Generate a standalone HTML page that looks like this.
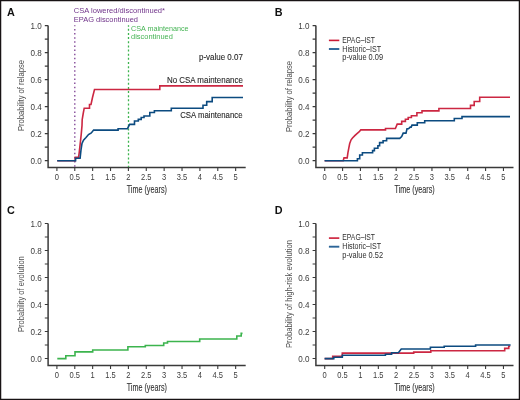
<!DOCTYPE html>
<html><head><meta charset="utf-8"><style>
html,body{margin:0;padding:0;background:#fff;width:520px;height:400px;overflow:hidden}
svg text{font-family:"Liberation Sans", sans-serif}
</style></head><body>
<svg width="520" height="400" viewBox="0 0 520 400" style="display:block;will-change:transform;font-family:&quot;Liberation Sans&quot;, sans-serif">
<rect x="0" y="0" width="520" height="400" fill="#fff"/>
<text x="6.90" y="15.60" font-size="10.8" fill="#111" font-weight="bold" >A</text>
<path d="M48.10 25.60 V167.60 H245.70" fill="none" stroke="#3a3a3a" stroke-width="1.5" stroke-linejoin="miter"/>
<path d="M44.80 160.60 H48.10 M44.80 147.10 H48.10 M44.80 133.60 H48.10 M44.80 120.10 H48.10 M44.80 106.60 H48.10 M44.80 93.10 H48.10 M44.80 79.60 H48.10 M44.80 66.10 H48.10 M44.80 52.60 H48.10 M44.80 39.10 H48.10 M44.80 25.60 H48.10 M56.90 167.60 V171.00 M74.78 167.60 V171.00 M92.65 167.60 V171.00 M110.53 167.60 V171.00 M128.40 167.60 V171.00 M146.28 167.60 V171.00 M164.15 167.60 V171.00 M182.03 167.60 V171.00 M199.90 167.60 V171.00 M217.78 167.60 V171.00 M235.65 167.60 V171.00" stroke="#3a3a3a" stroke-width="1.1" fill="none"/>
<text x="41.70" y="163.70" font-size="8.8" fill="#3c3c3c" text-anchor="end" textLength="11.25" lengthAdjust="spacingAndGlyphs" >0.0</text>
<text x="41.70" y="136.70" font-size="8.8" fill="#3c3c3c" text-anchor="end" textLength="11.25" lengthAdjust="spacingAndGlyphs" >0.2</text>
<text x="41.70" y="109.70" font-size="8.8" fill="#3c3c3c" text-anchor="end" textLength="11.25" lengthAdjust="spacingAndGlyphs" >0.4</text>
<text x="41.70" y="82.70" font-size="8.8" fill="#3c3c3c" text-anchor="end" textLength="11.25" lengthAdjust="spacingAndGlyphs" >0.6</text>
<text x="41.70" y="55.70" font-size="8.8" fill="#3c3c3c" text-anchor="end" textLength="11.25" lengthAdjust="spacingAndGlyphs" >0.8</text>
<text x="41.70" y="28.70" font-size="8.8" fill="#3c3c3c" text-anchor="end" textLength="11.25" lengthAdjust="spacingAndGlyphs" >1.0</text>
<text x="56.90" y="180.40" font-size="8.2" fill="#3c3c3c" text-anchor="middle" textLength="4.2" lengthAdjust="spacingAndGlyphs" >0</text>
<text x="74.78" y="180.40" font-size="8.2" fill="#3c3c3c" text-anchor="middle" textLength="10.49" lengthAdjust="spacingAndGlyphs" >0.5</text>
<text x="92.65" y="180.40" font-size="8.2" fill="#3c3c3c" text-anchor="middle" textLength="4.2" lengthAdjust="spacingAndGlyphs" >1</text>
<text x="110.53" y="180.40" font-size="8.2" fill="#3c3c3c" text-anchor="middle" textLength="10.49" lengthAdjust="spacingAndGlyphs" >1.5</text>
<text x="128.40" y="180.40" font-size="8.2" fill="#3c3c3c" text-anchor="middle" textLength="4.2" lengthAdjust="spacingAndGlyphs" >2</text>
<text x="146.28" y="180.40" font-size="8.2" fill="#3c3c3c" text-anchor="middle" textLength="10.49" lengthAdjust="spacingAndGlyphs" >2.5</text>
<text x="164.15" y="180.40" font-size="8.2" fill="#3c3c3c" text-anchor="middle" textLength="4.2" lengthAdjust="spacingAndGlyphs" >3</text>
<text x="182.03" y="180.40" font-size="8.2" fill="#3c3c3c" text-anchor="middle" textLength="10.49" lengthAdjust="spacingAndGlyphs" >3.5</text>
<text x="199.90" y="180.40" font-size="8.2" fill="#3c3c3c" text-anchor="middle" textLength="4.2" lengthAdjust="spacingAndGlyphs" >4</text>
<text x="217.78" y="180.40" font-size="8.2" fill="#3c3c3c" text-anchor="middle" textLength="10.49" lengthAdjust="spacingAndGlyphs" >4.5</text>
<text x="235.65" y="180.40" font-size="8.2" fill="#3c3c3c" text-anchor="middle" textLength="4.2" lengthAdjust="spacingAndGlyphs" >5</text>
<text x="146.80" y="193.40" font-size="10.0" fill="#333333" stroke="#333333" stroke-width="0.12" text-anchor="middle" textLength="40.2" lengthAdjust="spacingAndGlyphs" >Time (years)</text>
<text transform="translate(23.80 95.50) rotate(-90)" x="0" y="0" font-size="9.4" fill="#505050" text-anchor="middle" textLength="71" lengthAdjust="spacingAndGlyphs">Probability of relapse</text>
<path d="M74.8 25.2 V167" stroke="#7d3f93" stroke-width="1.3" stroke-dasharray="1.5 2.63" stroke-dashoffset="0.45" fill="none"/>
<path d="M128.5 25.2 V167" stroke="#3cb44e" stroke-width="1.3" stroke-dasharray="2 2.15" stroke-dashoffset="0.55" fill="none"/>
<text x="73.80" y="13.00" font-size="8.1" fill="#6f3289" textLength="91.2" lengthAdjust="spacingAndGlyphs" >CSA lowered/discontinued*</text>
<text x="73.80" y="21.60" font-size="8.1" fill="#6f3289" textLength="64.2" lengthAdjust="spacingAndGlyphs" >EPAG discontinued</text>
<text x="131.00" y="30.80" font-size="7.7" fill="#45b454" textLength="57.6" lengthAdjust="spacingAndGlyphs" >CSA maintenance</text>
<text x="131.00" y="39.20" font-size="7.7" fill="#45b454" textLength="41.8" lengthAdjust="spacingAndGlyphs" >discontinued</text>
<text x="242.90" y="60.00" font-size="8.5" fill="#262626" stroke="#262626" stroke-width="0.1" text-anchor="end" textLength="43.9" lengthAdjust="spacingAndGlyphs" >p-value 0.07</text>
<text x="242.90" y="82.50" font-size="8.5" fill="#262626" stroke="#262626" stroke-width="0.1" text-anchor="end" textLength="76" lengthAdjust="spacingAndGlyphs" >No CSA maintenance</text>
<text x="242.50" y="117.60" font-size="8.5" fill="#262626" stroke="#262626" stroke-width="0.1" text-anchor="end" textLength="62.3" lengthAdjust="spacingAndGlyphs" >CSA maintenance</text>
<path d="M57.20 160.70 H75.20 V157.20 H78.60 L79.20 152.60 L80.10 144.70 L81.20 134.60 L82.00 125.60 L82.20 119.50 L83.30 113.00 L84.20 108.20 H89.50 V104.50 H91.00 L92.50 97.50 L93.50 93.50 L94.50 89.50 H159.80 V85.90 H243.00" fill="none" stroke="#cc2742" stroke-width="1.6" stroke-linejoin="miter" stroke-linecap="butt"/>
<path d="M57.20 160.70 H75.60 V158.20 H80.10 L81.00 150.00 L82.00 143.50 L83.50 140.20 L86.00 137.50 L88.50 134.60 L91.30 132.90 L93.60 130.10 H118.10 V128.70 H127.50 L129.60 124.40 H134.50 V121.00 H138.30 V119.40 H141.20 V117.50 H144.00 V116.00 H149.80 V112.50 H154.40 V110.70 H171.30 V108.30 H203.00 V105.30 H206.70 V101.60 H212.20 V97.50 H243.00" fill="none" stroke="#0c4b80" stroke-width="1.6" stroke-linejoin="miter" stroke-linecap="butt"/>
<text x="274.70" y="15.60" font-size="10.8" fill="#111" font-weight="bold" >B</text>
<path d="M315.90 25.60 V167.60 H513.50" fill="none" stroke="#3a3a3a" stroke-width="1.5" stroke-linejoin="miter"/>
<path d="M312.60 160.60 H315.90 M312.60 147.10 H315.90 M312.60 133.60 H315.90 M312.60 120.10 H315.90 M312.60 106.60 H315.90 M312.60 93.10 H315.90 M312.60 79.60 H315.90 M312.60 66.10 H315.90 M312.60 52.60 H315.90 M312.60 39.10 H315.90 M312.60 25.60 H315.90 M324.70 167.60 V171.00 M342.58 167.60 V171.00 M360.45 167.60 V171.00 M378.33 167.60 V171.00 M396.20 167.60 V171.00 M414.08 167.60 V171.00 M431.95 167.60 V171.00 M449.83 167.60 V171.00 M467.70 167.60 V171.00 M485.58 167.60 V171.00 M503.45 167.60 V171.00" stroke="#3a3a3a" stroke-width="1.1" fill="none"/>
<text x="309.50" y="163.70" font-size="8.8" fill="#3c3c3c" text-anchor="end" textLength="11.25" lengthAdjust="spacingAndGlyphs" >0.0</text>
<text x="309.50" y="136.70" font-size="8.8" fill="#3c3c3c" text-anchor="end" textLength="11.25" lengthAdjust="spacingAndGlyphs" >0.2</text>
<text x="309.50" y="109.70" font-size="8.8" fill="#3c3c3c" text-anchor="end" textLength="11.25" lengthAdjust="spacingAndGlyphs" >0.4</text>
<text x="309.50" y="82.70" font-size="8.8" fill="#3c3c3c" text-anchor="end" textLength="11.25" lengthAdjust="spacingAndGlyphs" >0.6</text>
<text x="309.50" y="55.70" font-size="8.8" fill="#3c3c3c" text-anchor="end" textLength="11.25" lengthAdjust="spacingAndGlyphs" >0.8</text>
<text x="309.50" y="28.70" font-size="8.8" fill="#3c3c3c" text-anchor="end" textLength="11.25" lengthAdjust="spacingAndGlyphs" >1.0</text>
<text x="324.70" y="180.40" font-size="8.2" fill="#3c3c3c" text-anchor="middle" textLength="4.2" lengthAdjust="spacingAndGlyphs" >0</text>
<text x="342.58" y="180.40" font-size="8.2" fill="#3c3c3c" text-anchor="middle" textLength="10.49" lengthAdjust="spacingAndGlyphs" >0.5</text>
<text x="360.45" y="180.40" font-size="8.2" fill="#3c3c3c" text-anchor="middle" textLength="4.2" lengthAdjust="spacingAndGlyphs" >1</text>
<text x="378.33" y="180.40" font-size="8.2" fill="#3c3c3c" text-anchor="middle" textLength="10.49" lengthAdjust="spacingAndGlyphs" >1.5</text>
<text x="396.20" y="180.40" font-size="8.2" fill="#3c3c3c" text-anchor="middle" textLength="4.2" lengthAdjust="spacingAndGlyphs" >2</text>
<text x="414.08" y="180.40" font-size="8.2" fill="#3c3c3c" text-anchor="middle" textLength="10.49" lengthAdjust="spacingAndGlyphs" >2.5</text>
<text x="431.95" y="180.40" font-size="8.2" fill="#3c3c3c" text-anchor="middle" textLength="4.2" lengthAdjust="spacingAndGlyphs" >3</text>
<text x="449.83" y="180.40" font-size="8.2" fill="#3c3c3c" text-anchor="middle" textLength="10.49" lengthAdjust="spacingAndGlyphs" >3.5</text>
<text x="467.70" y="180.40" font-size="8.2" fill="#3c3c3c" text-anchor="middle" textLength="4.2" lengthAdjust="spacingAndGlyphs" >4</text>
<text x="485.58" y="180.40" font-size="8.2" fill="#3c3c3c" text-anchor="middle" textLength="10.49" lengthAdjust="spacingAndGlyphs" >4.5</text>
<text x="503.45" y="180.40" font-size="8.2" fill="#3c3c3c" text-anchor="middle" textLength="4.2" lengthAdjust="spacingAndGlyphs" >5</text>
<text x="414.60" y="193.40" font-size="10.0" fill="#333333" stroke="#333333" stroke-width="0.12" text-anchor="middle" textLength="40.2" lengthAdjust="spacingAndGlyphs" >Time (years)</text>
<text transform="translate(291.60 96.50) rotate(-90)" x="0" y="0" font-size="9.4" fill="#505050" text-anchor="middle" textLength="71" lengthAdjust="spacingAndGlyphs">Probability of relapse</text>
<path d="M328.9 40.4 H339.3" stroke="#cc1a36" stroke-width="1.6"/>
<path d="M328.9 49.0 H339.3" stroke="#2c6598" stroke-width="1.9"/>
<text x="342.30" y="42.60" font-size="8.3" fill="#2e2e2e" textLength="32.7" lengthAdjust="spacingAndGlyphs" >EPAG–IST</text>
<text x="342.30" y="51.50" font-size="8.3" fill="#2e2e2e" textLength="38.9" lengthAdjust="spacingAndGlyphs" >Historic–IST</text>
<text x="342.30" y="60.00" font-size="8.3" fill="#2e2e2e" textLength="40.7" lengthAdjust="spacingAndGlyphs" >p-value 0.09</text>
<path d="M324.60 160.70 H343.20 L344.00 157.90 H347.20 L347.90 152.80 L348.80 148.10 L349.70 143.50 L351.10 139.80 L352.50 138.00 L354.80 135.60 L356.70 133.80 L359.00 132.00 L360.80 129.90 H385.50 V128.50 H395.40 L397.20 124.10 H401.70 V121.40 H405.40 V119.20 H408.20 V117.50 H411.40 V115.70 H416.90 V112.70 H422.00 V110.90 H438.90 V108.50 H470.50 V105.40 H474.20 V101.50 H479.70 V97.20 H510.00" fill="none" stroke="#cc2742" stroke-width="1.6" stroke-linejoin="miter" stroke-linecap="butt"/>
<path d="M324.60 160.70 H357.40 V158.70 H359.70 V155.00 H362.40 V152.70 H372.60 V150.60 H374.40 V148.30 H377.90 V145.70 H379.60 V142.60 H383.10 V140.80 H386.60 V138.40 H399.70 L401.70 136.60 L403.20 133.10 H406.00 L407.00 128.80 H408.50 L410.20 127.10 H411.20 L412.00 125.10 H417.30 V122.80 H424.70 V120.80 H454.30 V118.50 H462.00 V116.60 H510.00" fill="none" stroke="#0c4b80" stroke-width="1.6" stroke-linejoin="miter" stroke-linecap="butt"/>
<text x="6.90" y="213.50" font-size="10.8" fill="#111" font-weight="bold" >C</text>
<path d="M48.10 223.50 V365.50 H245.70" fill="none" stroke="#3a3a3a" stroke-width="1.5" stroke-linejoin="miter"/>
<path d="M44.80 358.50 H48.10 M44.80 345.00 H48.10 M44.80 331.50 H48.10 M44.80 318.00 H48.10 M44.80 304.50 H48.10 M44.80 291.00 H48.10 M44.80 277.50 H48.10 M44.80 264.00 H48.10 M44.80 250.50 H48.10 M44.80 237.00 H48.10 M44.80 223.50 H48.10 M56.90 365.50 V368.90 M74.78 365.50 V368.90 M92.65 365.50 V368.90 M110.53 365.50 V368.90 M128.40 365.50 V368.90 M146.28 365.50 V368.90 M164.15 365.50 V368.90 M182.03 365.50 V368.90 M199.90 365.50 V368.90 M217.78 365.50 V368.90 M235.65 365.50 V368.90" stroke="#3a3a3a" stroke-width="1.1" fill="none"/>
<text x="41.70" y="361.60" font-size="8.8" fill="#3c3c3c" text-anchor="end" textLength="11.25" lengthAdjust="spacingAndGlyphs" >0.0</text>
<text x="41.70" y="334.60" font-size="8.8" fill="#3c3c3c" text-anchor="end" textLength="11.25" lengthAdjust="spacingAndGlyphs" >0.2</text>
<text x="41.70" y="307.60" font-size="8.8" fill="#3c3c3c" text-anchor="end" textLength="11.25" lengthAdjust="spacingAndGlyphs" >0.4</text>
<text x="41.70" y="280.60" font-size="8.8" fill="#3c3c3c" text-anchor="end" textLength="11.25" lengthAdjust="spacingAndGlyphs" >0.6</text>
<text x="41.70" y="253.60" font-size="8.8" fill="#3c3c3c" text-anchor="end" textLength="11.25" lengthAdjust="spacingAndGlyphs" >0.8</text>
<text x="41.70" y="226.60" font-size="8.8" fill="#3c3c3c" text-anchor="end" textLength="11.25" lengthAdjust="spacingAndGlyphs" >1.0</text>
<text x="56.90" y="378.30" font-size="8.2" fill="#3c3c3c" text-anchor="middle" textLength="4.2" lengthAdjust="spacingAndGlyphs" >0</text>
<text x="74.78" y="378.30" font-size="8.2" fill="#3c3c3c" text-anchor="middle" textLength="10.49" lengthAdjust="spacingAndGlyphs" >0.5</text>
<text x="92.65" y="378.30" font-size="8.2" fill="#3c3c3c" text-anchor="middle" textLength="4.2" lengthAdjust="spacingAndGlyphs" >1</text>
<text x="110.53" y="378.30" font-size="8.2" fill="#3c3c3c" text-anchor="middle" textLength="10.49" lengthAdjust="spacingAndGlyphs" >1.5</text>
<text x="128.40" y="378.30" font-size="8.2" fill="#3c3c3c" text-anchor="middle" textLength="4.2" lengthAdjust="spacingAndGlyphs" >2</text>
<text x="146.28" y="378.30" font-size="8.2" fill="#3c3c3c" text-anchor="middle" textLength="10.49" lengthAdjust="spacingAndGlyphs" >2.5</text>
<text x="164.15" y="378.30" font-size="8.2" fill="#3c3c3c" text-anchor="middle" textLength="4.2" lengthAdjust="spacingAndGlyphs" >3</text>
<text x="182.03" y="378.30" font-size="8.2" fill="#3c3c3c" text-anchor="middle" textLength="10.49" lengthAdjust="spacingAndGlyphs" >3.5</text>
<text x="199.90" y="378.30" font-size="8.2" fill="#3c3c3c" text-anchor="middle" textLength="4.2" lengthAdjust="spacingAndGlyphs" >4</text>
<text x="217.78" y="378.30" font-size="8.2" fill="#3c3c3c" text-anchor="middle" textLength="10.49" lengthAdjust="spacingAndGlyphs" >4.5</text>
<text x="235.65" y="378.30" font-size="8.2" fill="#3c3c3c" text-anchor="middle" textLength="4.2" lengthAdjust="spacingAndGlyphs" >5</text>
<text x="146.80" y="391.30" font-size="10.0" fill="#333333" stroke="#333333" stroke-width="0.12" text-anchor="middle" textLength="40.2" lengthAdjust="spacingAndGlyphs" >Time (years)</text>
<text transform="translate(23.80 294.10) rotate(-90)" x="0" y="0" font-size="9.4" fill="#505050" text-anchor="middle" textLength="75.7" lengthAdjust="spacingAndGlyphs">Probability of evolution</text>
<path d="M57.30 358.60 H65.80 V355.80 H75.00 V351.90 H92.70 V350.00 H127.90 V346.80 H145.30 V345.50 H163.70 V343.00 H167.50 V341.50 H199.70 V339.00 H236.80 V336.00 H241.20 V333.40 H242.50" fill="none" stroke="#3cb44e" stroke-width="1.6" stroke-linejoin="miter" stroke-linecap="butt"/>
<text x="274.70" y="213.50" font-size="10.8" fill="#111" font-weight="bold" >D</text>
<path d="M315.90 223.50 V365.50 H513.50" fill="none" stroke="#3a3a3a" stroke-width="1.5" stroke-linejoin="miter"/>
<path d="M312.60 358.50 H315.90 M312.60 345.00 H315.90 M312.60 331.50 H315.90 M312.60 318.00 H315.90 M312.60 304.50 H315.90 M312.60 291.00 H315.90 M312.60 277.50 H315.90 M312.60 264.00 H315.90 M312.60 250.50 H315.90 M312.60 237.00 H315.90 M312.60 223.50 H315.90 M324.70 365.50 V368.90 M342.58 365.50 V368.90 M360.45 365.50 V368.90 M378.33 365.50 V368.90 M396.20 365.50 V368.90 M414.08 365.50 V368.90 M431.95 365.50 V368.90 M449.83 365.50 V368.90 M467.70 365.50 V368.90 M485.58 365.50 V368.90 M503.45 365.50 V368.90" stroke="#3a3a3a" stroke-width="1.1" fill="none"/>
<text x="309.50" y="361.60" font-size="8.8" fill="#3c3c3c" text-anchor="end" textLength="11.25" lengthAdjust="spacingAndGlyphs" >0.0</text>
<text x="309.50" y="334.60" font-size="8.8" fill="#3c3c3c" text-anchor="end" textLength="11.25" lengthAdjust="spacingAndGlyphs" >0.2</text>
<text x="309.50" y="307.60" font-size="8.8" fill="#3c3c3c" text-anchor="end" textLength="11.25" lengthAdjust="spacingAndGlyphs" >0.4</text>
<text x="309.50" y="280.60" font-size="8.8" fill="#3c3c3c" text-anchor="end" textLength="11.25" lengthAdjust="spacingAndGlyphs" >0.6</text>
<text x="309.50" y="253.60" font-size="8.8" fill="#3c3c3c" text-anchor="end" textLength="11.25" lengthAdjust="spacingAndGlyphs" >0.8</text>
<text x="309.50" y="226.60" font-size="8.8" fill="#3c3c3c" text-anchor="end" textLength="11.25" lengthAdjust="spacingAndGlyphs" >1.0</text>
<text x="324.70" y="378.30" font-size="8.2" fill="#3c3c3c" text-anchor="middle" textLength="4.2" lengthAdjust="spacingAndGlyphs" >0</text>
<text x="342.58" y="378.30" font-size="8.2" fill="#3c3c3c" text-anchor="middle" textLength="10.49" lengthAdjust="spacingAndGlyphs" >0.5</text>
<text x="360.45" y="378.30" font-size="8.2" fill="#3c3c3c" text-anchor="middle" textLength="4.2" lengthAdjust="spacingAndGlyphs" >1</text>
<text x="378.33" y="378.30" font-size="8.2" fill="#3c3c3c" text-anchor="middle" textLength="10.49" lengthAdjust="spacingAndGlyphs" >1.5</text>
<text x="396.20" y="378.30" font-size="8.2" fill="#3c3c3c" text-anchor="middle" textLength="4.2" lengthAdjust="spacingAndGlyphs" >2</text>
<text x="414.08" y="378.30" font-size="8.2" fill="#3c3c3c" text-anchor="middle" textLength="10.49" lengthAdjust="spacingAndGlyphs" >2.5</text>
<text x="431.95" y="378.30" font-size="8.2" fill="#3c3c3c" text-anchor="middle" textLength="4.2" lengthAdjust="spacingAndGlyphs" >3</text>
<text x="449.83" y="378.30" font-size="8.2" fill="#3c3c3c" text-anchor="middle" textLength="10.49" lengthAdjust="spacingAndGlyphs" >3.5</text>
<text x="467.70" y="378.30" font-size="8.2" fill="#3c3c3c" text-anchor="middle" textLength="4.2" lengthAdjust="spacingAndGlyphs" >4</text>
<text x="485.58" y="378.30" font-size="8.2" fill="#3c3c3c" text-anchor="middle" textLength="10.49" lengthAdjust="spacingAndGlyphs" >4.5</text>
<text x="503.45" y="378.30" font-size="8.2" fill="#3c3c3c" text-anchor="middle" textLength="4.2" lengthAdjust="spacingAndGlyphs" >5</text>
<text x="414.60" y="391.30" font-size="10.0" fill="#333333" stroke="#333333" stroke-width="0.12" text-anchor="middle" textLength="40.2" lengthAdjust="spacingAndGlyphs" >Time (years)</text>
<text transform="translate(291.60 294.00) rotate(-90)" x="0" y="0" font-size="9.4" fill="#505050" text-anchor="middle" textLength="108" lengthAdjust="spacingAndGlyphs">Probability of high-risk evolution</text>
<path d="M328.9 238.1 H339.3" stroke="#cc1a36" stroke-width="1.6"/>
<path d="M328.9 246.7 H339.3" stroke="#2c6598" stroke-width="1.9"/>
<text x="342.30" y="240.40" font-size="8.3" fill="#2e2e2e" textLength="32.7" lengthAdjust="spacingAndGlyphs" >EPAG–IST</text>
<text x="342.30" y="249.30" font-size="8.3" fill="#2e2e2e" textLength="38.9" lengthAdjust="spacingAndGlyphs" >Historic–IST</text>
<text x="342.30" y="258.10" font-size="8.3" fill="#2e2e2e" textLength="40.7" lengthAdjust="spacingAndGlyphs" >p-value 0.52</text>
<path d="M324.60 358.60 H332.70 V356.30 H342.30 V353.10 H413.70 V352.10 H430.80 V350.80 H504.70 V348.40 H508.75 V346.25 H510.20" fill="none" stroke="#cc2742" stroke-width="1.6" stroke-linejoin="miter" stroke-linecap="butt"/>
<path d="M324.60 358.60 H333.80 V357.20 H342.30 V355.30 H385.40 V354.20 H391.60 V352.80 H398.40 L401.25 349.00 H430.40 V347.30 H444.20 V346.30 H475.60 V345.00 H510.60" fill="none" stroke="#0c4b80" stroke-width="1.6" stroke-linejoin="miter" stroke-linecap="butt"/>
<rect x="0.6" y="0.6" width="518.8" height="398.8" fill="none" stroke="#181314" stroke-width="1.3"/>
</svg>
</body></html>
